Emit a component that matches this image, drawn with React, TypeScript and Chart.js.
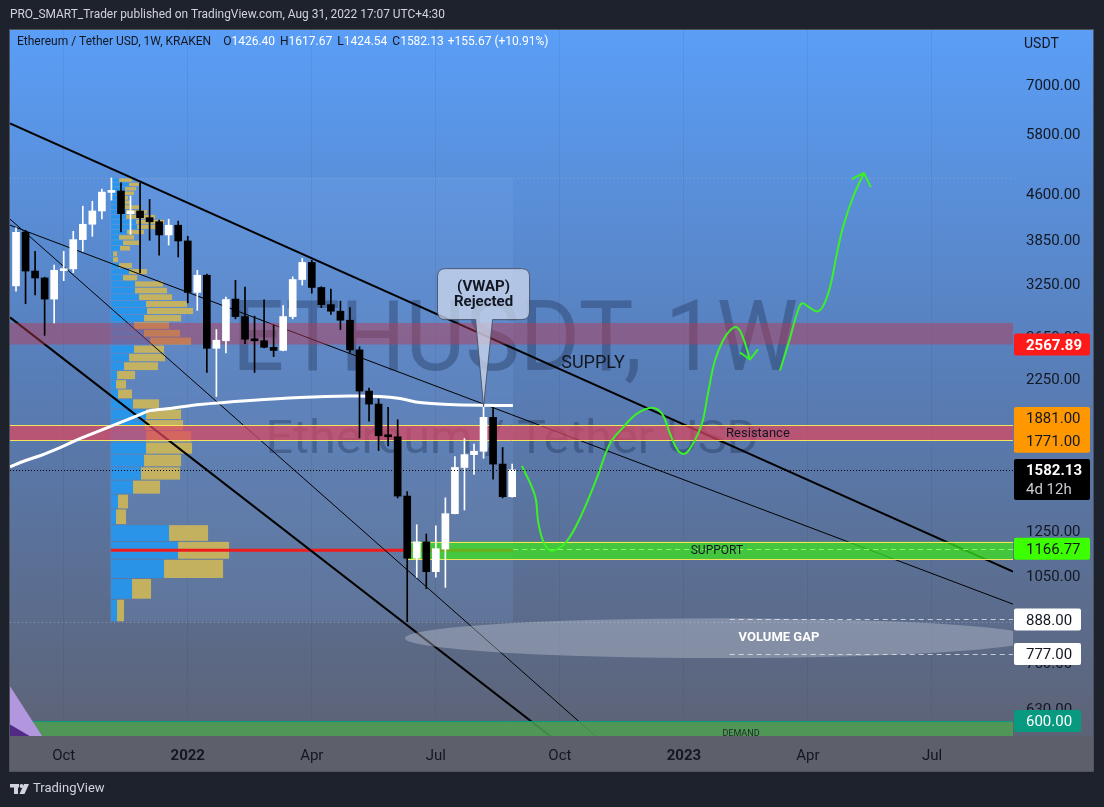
import React, { useEffect, useRef } from "react";
import { Chart, registerables } from "chart.js";

Chart.register(...registerables);

const W = 1104;
const H = 807;
const FONT = 'Roboto, "Noto Sans", "DejaVu Sans", sans-serif';

// ---- weekly candles (week 0 = 30 Aug 2021) ----
const OPENS = [3220,3960,3410,3320,3060,3415,3438,3850,4085,4300,4620,4645,4255,4300,4190,4125,3920,4070,3830,3140,3355,2530,2605,3060,2860,2620,2605,2540,2510,2860,3300,3525,3200,2995,2920,2820,2515,2145,2040,1805,1798,1430,1125,1198,1068,1165,1336,1597,1678,1700,1938,1618,1426.40];
const HIGHS = [4030,3990,3680,3330,3490,3680,3975,4380,4465,4680,4885,4795,4555,4790,4495,4150,4165,4135,3900,3420,3370,2720,3085,3290,3205,2865,3050,2765,2985,3335,3580,3555,3210,3180,3035,2960,2545,2170,2080,2015,1920,1455,1280,1235,1275,1420,1665,1785,1748,2020,2010,1725,1617.67];
const LOWS = [3155,3005,3110,2660,2790,3285,3390,3680,3900,4170,4485,3965,3930,3385,3840,3625,3770,3600,3015,2930,2305,2100,2485,2835,2575,2305,2535,2450,2505,2835,3230,3130,2960,2885,2720,2490,1790,1910,1705,1735,1420,880,1045,1000,1045,1005,1335,1355,1555,1655,1527,1420,1424.54];
const CLOSES = [3960,3410,3320,3060,3420,3438,3850,4085,4300,4625,4645,4255,4300,4190,4125,3920,4070,3830,3140,3355,2530,2610,3055,2860,2620,2605,2540,2510,2860,3300,3525,3200,2995,2920,2820,2515,2145,2040,1805,1798,1430,1125,1198,1068,1167,1336,1597,1678,1700,1938,1618,1426.46,1582.13];

// ---- axes ----
const X_MIN = -0.63;
const X_MAX = 104.49;
const Y_MIN = 566.1;
const Y_MAX = 8650;
const WEEK_TICKS = [5, 18, 31, 44, 57, 70, 83, 96];
const WEEK_TICK_LABELS = ["Oct", "2022", "Apr", "Jul", "Oct", "2023", "Apr", "Jul"];
const PRICE_TICKS = [7000, 5800, 4600, 3850, 3250, 2650, 2250, 1250, 1050, 750, 630];

// ---- fixed range volume profile (rows bottom -> top) ----
const VP_LOW = 880;
const VP_HIGH = 4885;
const VP_BOX_WEEKS = [9.85, 52.1];
const VP_START_WEEK = 9.96;
const VP_POC_WEEKS = 12.37;
const VP_POC_PRICE = 1160;
const VP_UP = [6,21,53,67,58,5,7,22,30,33,35,35,34,35,22,7,5,6,13,18,23,39,33,23,33,36,35,28,24,24,12,18,8,2,2,9,12,8,16,26,25,15,15,12,10,9,12,14,18,8];
const VP_DOWN = [7,19,59,51,39,10,10,27,39,37,46,45,38,35,26,14,10,18,34,36,30,41,36,35,37,46,41,33,32,28,14,18,13,5,4,10,16,15,17,26,28,29,21,18,9,8,11,11,10,13];

// ---- VWAP ----
const VWAP_WEEKS = [-0.63,0.94,2.52,4.61,6.71,8.80,10.90,12.47,14.04,16.14,19.28,24.52,29.76,35.0,38.15,40.24,42.34,45.48,48.62,52.08];
const VWAP_PRICES = [1601,1639,1671,1724,1785,1841,1899,1943,1989,2005,2036,2068,2092,2104,2100,2084,2052,2036,2030,2028];

// ---- trend lines ----
const TREND_A_WEEKS = [-0.63, 104.49];
const TREND_A_PRICES = [6028, 1068.6];
const TREND_B_WEEKS = [-0.63, 56.17];
const TREND_B_PRICES = [2851, 563];
const TREND_C_WEEKS = [-0.63, 104.49];
const TREND_C_PRICES = [4071, 942];
const TREND_D_WEEKS = [-0.63, 60.89];
const TREND_D_PRICES = [4167, 563];

// ---- projected path (green) ----
const PATH1_WEEKS = [53.03,54.39,54.71,55.12,55.75,56.49,57.74,59.11,60.89,62.25,63.61,65.08,66.65,67.70,68.54,69.38,70.11,70.95,71.89,72.52,73.25,74.09,74.83,75.56,76.19,76.92];
const PATH1_PRICES = [1607,1432,1299,1217,1166,1161,1202,1314,1535,1751,1863,1966,2012,1966,1820,1704,1684,1751,1892,2125,2414,2608,2711,2743,2639,2423];
const ARROW1_WEEKS = [75.88, 76.92, 77.76];
const ARROW1_PRICES = [2490, 2423, 2519];
const PATH2_WEEKS = [80.07,81.11,81.85,82.37,83.00,83.94,84.57,85.31,86.04,86.67,87.72,88.87];
const PATH2_PRICES = [2322,2628,2896,3010,2975,2918,2975,3202,3653,4040,4537,4979];
const ARROW2_WEEKS = [87.61, 88.87, 89.60];
const ARROW2_PRICES = [4865, 4979, 4716];

// ---- zones & levels ----
const SUPPLY_ZONE = [2567.89, 2790];
const RESISTANCE_ZONE = [1771, 1881];
const SUPPORT_ZONE = [1117, 1199];
const SUPPORT_START_WEEK = 41;
const SUPPORT_LEVEL = 1166.77;
const SUPPORT_LEVEL_START = 52.1;
const DEMAND_LEVEL = 600;
const GAP_LEVELS = [888, 777];
const GAP_LINE_START = 74.8;
const GAP_ELLIPSE_WEEKS = [40.77, 106.8];
const GAP_ELLIPSE_PRICES = [765, 892];
const PURPLE_WEEKS = [-0.63, 2.83, -0.63];
const PURPLE_PRICES = [686, 563, 563];
const PURPLE_DARK_WEEKS = [-0.63, 1.68, -0.63];
const PURPLE_DARK_PRICES = [592, 563, 563];

// ---- text annotations ----
const LABEL_TEXTS = ["SUPPLY", "Resistance", "SUPPORT", "DEMAND", "VOLUME GAP"];
const LABEL_WEEKS = [60.47, 77.76, 73.46, 75.98, 79.96];
const LABEL_PRICES = [2395, 1825, 1160, 574, 832];
const CALLOUT_WEEK = 49;
const CALLOUT_PRICE = 2020;
const CALLOUT_LINES = ["(VWAP)", "Rejected"];
const COUNTDOWN = "4d 12h";
const HEADER = "PRO_SMART_Trader published on TradingView.com, Aug 31, 2022 17:07 UTC+4:30";
const TITLE = "Ethereum / Tether USD, 1W, KRAKEN";
const WATERMARK_1 = "ETHUSDT, 1W";
const WATERMARK_2 = "Ethereum / Tether USD";

const WEEKS = OPENS.map((_, i) => i);
const pts = (ws: number[], ps: number[]) => ws.map((w, i) => ({ x: w, y: ps[i] }));

function fitText(ctx: any, text: string, x: number, y: number, width: number, align: string) {
  const w = ctx.measureText(text).width;
  ctx.save();
  ctx.translate(x, y);
  ctx.scale(width / w, 1);
  ctx.textAlign = "left";
  ctx.fillText(text, align === "center" ? -w / 2 : 0, 0);
  ctx.restore();
}

function hBand(ctx: any, xs: any, ys: any, a: any, p0: number, p1: number, xStart: number, fill: string, border?: string) {
  const y0 = ys.getPixelForValue(p1);
  const y1 = ys.getPixelForValue(p0);
  ctx.fillStyle = fill;
  ctx.fillRect(xStart, y0, a.right - xStart, y1 - y0);
  if (border) {
    ctx.strokeStyle = border;
    ctx.lineWidth = 1;
    ctx.setLineDash([]);
    ctx.beginPath();
    ctx.moveTo(xStart, Math.round(y0) + 0.5);
    ctx.lineTo(a.right, Math.round(y0) + 0.5);
    ctx.moveTo(xStart, Math.round(y1) - 0.5);
    ctx.lineTo(a.right, Math.round(y1) - 0.5);
    ctx.stroke();
  }
}

function poly(ctx: any, xs: any, ys: any, ws: number[], ps: number[], fill: string) {
  ctx.fillStyle = fill;
  ctx.beginPath();
  ws.forEach((w, i) => {
    const x = xs.getPixelForValue(w);
    const y = ys.getPixelForValue(ps[i]);
    if (i === 0) ctx.moveTo(x, y);
    else ctx.lineTo(x, y);
  });
  ctx.closePath();
  ctx.fill();
}

function tag(ctx: any, x: number, top: number, w: number, h: number, bg: string, lines: any[]) {
  ctx.fillStyle = bg;
  ctx.beginPath();
  ctx.roundRect(x, top, w, h, 2);
  ctx.fill();
  ctx.textAlign = "left";
  ctx.textBaseline = "middle";
  lines.forEach((l) => {
    ctx.font = `${l.bold ? "bold " : ""}15px ${FONT}`;
    ctx.fillStyle = l.color;
    ctx.fillText(l.text, x + 12, l.y + 1.5);
  });
}

const decor = {
  id: "decor",
  beforeDraw(chart: any) {
    const { ctx, chartArea: a } = chart;
    const xs = chart.scales.x;
    const ys = chart.scales.y;
    const L = a.left;
    const R = ys.right;
    const T = a.top;
    const B = xs.bottom;
    ctx.save();
    ctx.fillStyle = "#1e222d";
    ctx.fillRect(0, 0, chart.width, chart.height);
    const g = ctx.createLinearGradient(0, T, 0, a.bottom);
    g.addColorStop(0, "rgb(90,158,247)");
    g.addColorStop(0.5, "rgb(88,125,182)");
    g.addColorStop(1, "rgb(93,99,118)");
    ctx.fillStyle = g;
    ctx.fillRect(L, T, R - L, a.bottom - T);
    ctx.fillStyle = "#5d606b";
    ctx.fillRect(L, a.bottom, R - L, B - a.bottom);

    // volume profile range box
    const vx0 = xs.getPixelForValue(VP_BOX_WEEKS[0]);
    const vx1 = xs.getPixelForValue(VP_BOX_WEEKS[1]);
    const vy0 = ys.getPixelForValue(VP_HIGH);
    const vy1 = ys.getPixelForValue(VP_LOW);
    ctx.fillStyle = "rgba(140,190,255,0.12)";
    ctx.fillRect(vx0, vy0, vx1 - vx0, vy1 - vy0);

    // watermark
    ctx.fillStyle = "rgba(20,35,70,0.33)";
    ctx.textBaseline = "alphabetic";
    ctx.font = `98px ${FONT}`;
    fitText(ctx, WATERMARK_1, 515, 370, 566, "center");
    ctx.font = `46px ${FONT}`;
    fitText(ctx, WATERMARK_2, 512, 453, 493, "center");

    // header
    ctx.fillStyle = "#d1d4dc";
    ctx.textBaseline = "middle";
    ctx.font = `12px ${FONT}`;
    fitText(ctx, HEADER, 10, 15, 435, "left");

    // footer logo
    ctx.fillStyle = "#d1d4dc";
    ctx.fillRect(10, 784, 9, 3.5);
    ctx.fillRect(14, 784, 4, 10);
    ctx.beginPath();
    ctx.arc(21.5, 786, 1.9, 0, Math.PI * 2);
    ctx.fill();
    ctx.beginPath();
    ctx.moveTo(24, 784);
    ctx.lineTo(29, 784);
    ctx.lineTo(24.5, 794);
    ctx.lineTo(19.5, 794);
    ctx.closePath();
    ctx.fill();
    ctx.font = `13px ${FONT}`;
    ctx.textAlign = "left";
    ctx.fillText("TradingView", 33, 789);
    ctx.restore();
  },
  beforeDatasetsDraw(chart: any) {
    const { ctx, chartArea: a } = chart;
    const xs = chart.scales.x;
    const ys = chart.scales.y;
    ctx.save();
    ctx.beginPath();
    ctx.rect(a.left, a.top, a.right - a.left, a.bottom - a.top);
    ctx.clip();
    // high / low dotted lines
    ctx.strokeStyle = "rgba(165,170,185,0.75)";
    ctx.lineWidth = 1;
    ctx.setLineDash([1, 3]);
    [VP_HIGH, VP_LOW].forEach((p) => {
      const y = Math.round(ys.getPixelForValue(p)) + 0.5;
      ctx.beginPath();
      ctx.moveTo(a.left, y);
      ctx.lineTo(a.right, y);
      ctx.stroke();
    });
    ctx.setLineDash([]);
    // rows
    const step = (VP_HIGH - VP_LOW) / VP_UP.length;
    const maxTot = Math.max(...VP_UP.map((u, i) => u + VP_DOWN[i]));
    const x0 = xs.getPixelForValue(VP_START_WEEK);
    const ppu = (xs.getPixelForValue(VP_START_WEEK + VP_POC_WEEKS) - x0) / maxTot;
    VP_UP.forEach((u, k) => {
      const pLo = VP_LOW + k * step;
      const yTop = ys.getPixelForValue(pLo + step);
      const yBot = ys.getPixelForValue(pLo);
      const top = yTop + 0.5;
      const h = Math.max(1, yBot - yTop - 1);
      ctx.fillStyle = "rgba(38,150,235,0.95)";
      ctx.fillRect(x0, top, u * ppu, h);
      ctx.fillStyle = "rgba(200,180,92,0.95)";
      ctx.fillRect(x0 + u * ppu, top, VP_DOWN[k] * ppu, h);
    });
    // POC
    ctx.strokeStyle = "rgb(240,28,28)";
    ctx.lineWidth = 3;
    const py = ys.getPixelForValue(VP_POC_PRICE);
    ctx.beginPath();
    ctx.moveTo(x0, py);
    ctx.lineTo(xs.getPixelForValue(VP_BOX_WEEKS[1]), py);
    ctx.stroke();
    ctx.restore();
  },
  beforeDatasetDraw(chart: any, args: any) {
    const ds = chart.data.datasets[args.index];
    if (!ds || ds.label !== "VWAP") return;
    const { ctx, chartArea: a } = chart;
    const xs = chart.scales.x;
    const ys = chart.scales.y;
    ctx.save();
    ctx.beginPath();
    ctx.rect(a.left, a.top, a.right - a.left, a.bottom - a.top);
    ctx.clip();
    hBand(ctx, xs, ys, a, SUPPLY_ZONE[0], SUPPLY_ZONE[1], a.left, "rgba(190,55,80,0.45)");
    hBand(ctx, xs, ys, a, RESISTANCE_ZONE[0], RESISTANCE_ZONE[1], a.left, "rgba(220,70,95,0.72)", "#f3e45a");
    hBand(ctx, xs, ys, a, SUPPORT_ZONE[0], SUPPORT_ZONE[1], xs.getPixelForValue(SUPPORT_START_WEEK), "rgba(60,228,30,0.74)", "#f3e45a");
    // support level dashed
    ctx.strokeStyle = "#8cff5a";
    ctx.lineWidth = 1;
    ctx.setLineDash([5, 4]);
    let y = Math.round(ys.getPixelForValue(SUPPORT_LEVEL)) + 0.5;
    ctx.beginPath();
    ctx.moveTo(xs.getPixelForValue(SUPPORT_LEVEL_START), y);
    ctx.lineTo(a.right, y);
    ctx.stroke();
    ctx.setLineDash([]);
    // demand
    const dy = ys.getPixelForValue(DEMAND_LEVEL);
    ctx.fillStyle = "rgba(77,158,82,0.86)";
    ctx.fillRect(a.left, dy, a.right - a.left, a.bottom - dy);
    ctx.strokeStyle = "rgb(8,153,129)";
    ctx.beginPath();
    ctx.moveTo(a.left, Math.round(dy) + 0.5);
    ctx.lineTo(a.right, Math.round(dy) + 0.5);
    ctx.stroke();
    // volume gap ellipse
    const ex0 = xs.getPixelForValue(GAP_ELLIPSE_WEEKS[0]);
    const ex1 = xs.getPixelForValue(GAP_ELLIPSE_WEEKS[1]);
    const ey0 = ys.getPixelForValue(GAP_ELLIPSE_PRICES[1]);
    const ey1 = ys.getPixelForValue(GAP_ELLIPSE_PRICES[0]);
    ctx.fillStyle = "rgba(205,210,222,0.36)";
    ctx.beginPath();
    ctx.ellipse((ex0 + ex1) / 2, (ey0 + ey1) / 2, (ex1 - ex0) / 2, (ey1 - ey0) / 2, 0, 0, Math.PI * 2);
    ctx.fill();
    ctx.strokeStyle = "rgba(235,236,242,0.75)";
    ctx.setLineDash([5, 4]);
    GAP_LEVELS.forEach((p) => {
      y = Math.round(ys.getPixelForValue(p)) + 0.5;
      ctx.beginPath();
      ctx.moveTo(xs.getPixelForValue(GAP_LINE_START), y);
      ctx.lineTo(a.right, y);
      ctx.stroke();
    });
    ctx.setLineDash([]);
    // purple shapes
    poly(ctx, xs, ys, PURPLE_WEEKS, PURPLE_PRICES, "rgb(178,150,222)");
    poly(ctx, xs, ys, PURPLE_DARK_WEEKS, PURPLE_DARK_PRICES, "rgb(80,42,132)");
    ctx.restore();
  },
  afterDatasetsDraw(chart: any) {
    const { ctx, chartArea: a } = chart;
    const xs = chart.scales.x;
    const ys = chart.scales.y;
    const last = CLOSES.length - 1;
    ctx.save();
    // last price dotted line
    ctx.strokeStyle = "#000";
    ctx.lineWidth = 1;
    ctx.setLineDash([1, 2]);
    const ly = Math.round(ys.getPixelForValue(CLOSES[last])) + 0.5;
    ctx.beginPath();
    ctx.moveTo(a.left, ly);
    ctx.lineTo(a.right, ly);
    ctx.stroke();
    ctx.setLineDash([]);

    // annotation texts
    const fonts = [`18px ${FONT}`, `13px ${FONT}`, `12px ${FONT}`, `9px ${FONT}`, `bold 13px ${FONT}`];
    const colors = ["#131722", "#131722", "#131722", "#1a2a22", "#ffffff"];
    ctx.textAlign = "center";
    ctx.textBaseline = "middle";
    LABEL_TEXTS.forEach((t, i) => {
      ctx.font = fonts[i];
      ctx.fillStyle = colors[i];
      ctx.fillText(t, xs.getPixelForValue(LABEL_WEEKS[i]), ys.getPixelForValue(LABEL_PRICES[i]) + 1);
    });

    // callout
    const ax = xs.getPixelForValue(CALLOUT_WEEK);
    const ay = ys.getPixelForValue(CALLOUT_PRICE);
    const bx0 = ax - 46;
    const bx1 = ax + 46;
    const by0 = ay - 138;
    const by1 = ay - 87;
    const r = 8;
    ctx.beginPath();
    ctx.moveTo(bx0 + r, by0);
    ctx.lineTo(bx1 - r, by0);
    ctx.quadraticCurveTo(bx1, by0, bx1, by0 + r);
    ctx.lineTo(bx1, by1 - r);
    ctx.quadraticCurveTo(bx1, by1, bx1 - r, by1);
    ctx.lineTo(ax + 9, by1);
    ctx.lineTo(ax, ay);
    ctx.lineTo(ax - 8, by1);
    ctx.lineTo(bx0 + r, by1);
    ctx.quadraticCurveTo(bx0, by1, bx0, by1 - r);
    ctx.lineTo(bx0, by0 + r);
    ctx.quadraticCurveTo(bx0, by0, bx0 + r, by0);
    ctx.closePath();
    ctx.fillStyle = "rgba(205,216,236,0.76)";
    ctx.fill();
    ctx.strokeStyle = "rgba(70,80,100,0.9)";
    ctx.lineWidth = 1;
    ctx.stroke();
    ctx.fillStyle = "#131722";
    ctx.font = `bold 15px ${FONT}`;
    ctx.fillText(CALLOUT_LINES[0], ax, by0 + 19);
    ctx.fillText(CALLOUT_LINES[1], ax, by0 + 34);

    // legend
    ctx.textAlign = "left";
    ctx.font = `12px ${FONT}`;
    let x = 17;
    const y = 42;
    ctx.fillStyle = "#131722";
    ctx.fillText(TITLE, x, y);
    x += ctx.measureText(TITLE).width + 12;
    const ohlc = [["O", OPENS[last]], ["H", HIGHS[last]], ["L", LOWS[last]], ["C", CLOSES[last]]];
    ohlc.forEach(([k, v]: any) => {
      ctx.fillStyle = "#131722";
      ctx.fillText(k, x, y);
      x += ctx.measureText(k).width;
      const s = Number(v).toFixed(2);
      ctx.fillStyle = "#ffffff";
      ctx.fillText(s, x, y);
      x += ctx.measureText(s).width + 5;
    });
    const chg = CLOSES[last] - CLOSES[last - 1];
    const pct = (chg / CLOSES[last - 1]) * 100;
    const sign = chg >= 0 ? "+" : "";
    ctx.fillStyle = "#ffffff";
    ctx.fillText(`${sign}${chg.toFixed(2)} (${sign}${pct.toFixed(2)}%)`, x - 1, y);
    ctx.restore();
  },
  afterDraw(chart: any) {
    const { ctx, chartArea: a } = chart;
    const xs = chart.scales.x;
    const ys = chart.scales.y;
    const tx = ys.left + 1;
    const last = CLOSES.length - 1;
    ctx.save();
    const yp = (p: number) => ys.getPixelForValue(p);
    const dark = "#131722";
    tag(ctx, tx, yp(SUPPLY_ZONE[0]) - 11, 76, 22, "#ff1a1a", [
      { text: SUPPLY_ZONE[0].toFixed(2), color: "#fff", bold: true, y: yp(SUPPLY_ZONE[0]) },
    ]);
    const rTop = yp(RESISTANCE_ZONE[1]) - 18;
    const rBot = yp(RESISTANCE_ZONE[0]) + 12;
    tag(ctx, tx, rTop, 76, rBot - rTop, "#ff9800", [
      { text: RESISTANCE_ZONE[1].toFixed(2), color: dark, y: rTop + 11 },
      { text: RESISTANCE_ZONE[0].toFixed(2), color: dark, y: rBot - 12 },
    ]);
    tag(ctx, tx, yp(CLOSES[last]) - 11, 76, 41, "#000000", [
      { text: CLOSES[last].toFixed(2), color: "#fff", bold: true, y: yp(CLOSES[last]) },
      { text: COUNTDOWN, color: "#c9cbd2", y: yp(CLOSES[last]) + 19 },
    ]);
    tag(ctx, tx, yp(SUPPORT_LEVEL) - 11, 76, 22, "#3cff00", [
      { text: SUPPORT_LEVEL.toFixed(2), color: dark, y: yp(SUPPORT_LEVEL) },
    ]);
    GAP_LEVELS.forEach((p) => {
      tag(ctx, tx, yp(p) - 11, 67, 22, "#ffffff", [{ text: p.toFixed(2), color: dark, y: yp(p) }]);
    });
    tag(ctx, tx, yp(DEMAND_LEVEL) - 11, 67, 22, "#089981", [
      { text: DEMAND_LEVEL.toFixed(2), color: "#fff", y: yp(DEMAND_LEVEL) },
    ]);
    ctx.font = `14px ${FONT}`;
    ctx.fillStyle = dark;
    ctx.textBaseline = "middle";
    ctx.fillText("USDT", ys.left + 11, 44);
    // pane border
    ctx.strokeStyle = "#50535e";
    ctx.lineWidth = 1;
    ctx.strokeRect(a.left - 0.5, a.top - 0.5, ys.right - a.left + 1, xs.bottom - a.top + 1);
    ctx.restore();
  },
};

export default function App() {
  const ref = useRef<HTMLCanvasElement>(null);
  useEffect(() => {
    const canvas = ref.current as HTMLCanvasElement;
    const candleColors = WEEKS.map((i) => (CLOSES[i] >= OPENS[i] ? "#ffffff" : "#000000"));
    const lineDs = (label: string, ws: number[], ps: number[], color: string, width: number, order: number, tension = 0) => ({
      type: "line",
      label,
      data: pts(ws, ps),
      borderColor: color,
      borderWidth: width,
      pointRadius: 0,
      tension,
      fill: false,
      order,
      borderJoinStyle: "round",
    });
    const chart = new Chart(canvas, {
      type: "bar",
      data: {
        datasets: [
          lineDs("trendA", TREND_A_WEEKS, TREND_A_PRICES, "#000000", 2, 10),
          lineDs("trendB", TREND_B_WEEKS, TREND_B_PRICES, "#000000", 2, 10),
          lineDs("trendC", TREND_C_WEEKS, TREND_C_PRICES, "#000000", 1, 10),
          lineDs("trendD", TREND_D_WEEKS, TREND_D_PRICES, "#000000", 1, 10),
          lineDs("VWAP", VWAP_WEEKS, VWAP_PRICES, "#ffffff", 3, 8, 0.3),
          {
            type: "bar",
            label: "wicks",
            data: WEEKS.map((i) => ({ x: i, y: [LOWS[i], HIGHS[i]] })),
            backgroundColor: candleColors,
            borderWidth: 0,
            grouped: false,
            barPercentage: 1,
            categoryPercentage: 1,
            maxBarThickness: 1,
            order: 6,
          },
          {
            type: "bar",
            label: "bodies",
            data: WEEKS.map((i) => ({ x: i, y: [OPENS[i], CLOSES[i]] })),
            backgroundColor: candleColors,
            borderWidth: 0,
            grouped: false,
            barPercentage: 1,
            categoryPercentage: 1,
            maxBarThickness: 7,
            minBarLength: 2,
            order: 5,
          },
          lineDs("path1", PATH1_WEEKS, PATH1_PRICES, "#3cf028", 2, 3, 0.4),
          lineDs("arrow1", ARROW1_WEEKS, ARROW1_PRICES, "#3cf028", 2, 3),
          lineDs("path2", PATH2_WEEKS, PATH2_PRICES, "#3cf028", 2, 3, 0.4),
          lineDs("arrow2", ARROW2_WEEKS, ARROW2_PRICES, "#3cf028", 2, 3),
        ] as any,
      },
      options: {
        responsive: false,
        animation: false,
        devicePixelRatio: 1,
        events: [],
        layout: { padding: { left: 10, top: 30, right: 11, bottom: 36 } },
        plugins: { legend: { display: false }, tooltip: { enabled: false } },
        scales: {
          x: {
            type: "linear",
            position: "bottom",
            min: X_MIN,
            max: X_MAX,
            offset: false,
            afterBuildTicks: (s: any) => {
              s.ticks = WEEK_TICKS.map((v) => ({ value: v }));
            },
            afterFit: (s: any) => {
              s.height = 35;
            },
            ticks: {
              autoSkip: false,
              maxRotation: 0,
              padding: 11,
              color: "#131722",
              font: (c: any) => ({
                family: FONT,
                size: 15,
                weight: /^\d{4}$/.test(WEEK_TICK_LABELS[c.index] || "") ? "bold" : "normal",
              }),
              callback: (_v: any, i: number) => WEEK_TICK_LABELS[i],
            },
            grid: { color: "rgba(25,35,70,0.08)", drawTicks: false, offset: false },
            border: { display: false },
          },
          y: {
            type: "logarithmic",
            position: "right",
            min: Y_MIN,
            max: Y_MAX,
            afterBuildTicks: (s: any) => {
              s.ticks = PRICE_TICKS.map((v) => ({ value: v }));
            },
            afterFit: (s: any) => {
              s.width = 80;
            },
            ticks: {
              autoSkip: false,
              padding: 13,
              labelOffset: 1.5,
              color: "#131722",
              font: { family: FONT, size: 15 },
              callback: (v: any) => Number(v).toFixed(2),
            },
            grid: { display: false, drawTicks: false },
            border: { display: false },
          },
        },
      } as any,
      plugins: [decor],
    } as any);
    return () => chart.destroy();
  }, []);
  return (
    <div style={{ position: "fixed", left: 0, top: 0, width: W, height: H, background: "#1e222d" }}>
      <canvas ref={ref} width={W} height={H} style={{ display: "block", width: W, height: H }} />
    </div>
  );
}
